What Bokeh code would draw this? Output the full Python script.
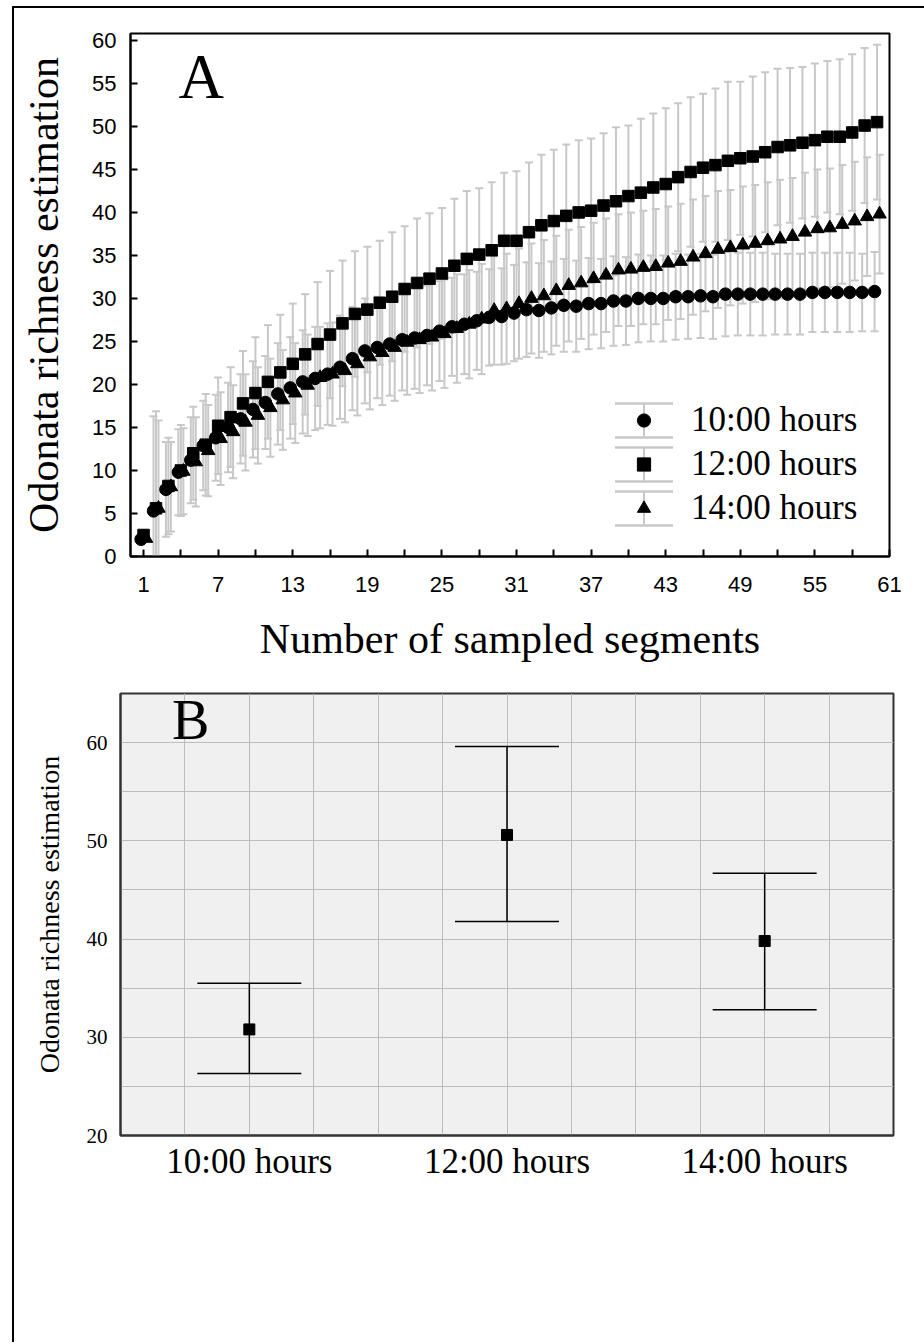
from bokeh.plotting import figure
from bokeh.models import (ColumnDataSource, Whisker, TeeHead, FixedTicker, Legend,
                          LegendItem, Label, FactorRange, Range1d)
from bokeh.layouts import column, row
from bokeh.embed import file_html
from bokeh.resources import INLINE

# ---------------- data ----------------
segments = list(range(1, 61))

mean_10 = [2.0, 5.3, 7.8, 9.8, 11.2, 12.9, 13.8, 15.0, 16.0, 17.1,
           17.9, 18.9, 19.6, 20.3, 20.7, 21.2, 22.0, 23.0, 23.9, 24.3,
           24.7, 25.2, 25.4, 25.7, 26.2, 26.7, 27.0, 27.4, 27.8, 27.9,
           28.3, 28.7, 28.6, 28.9, 29.2, 29.1, 29.4, 29.4, 29.7, 29.7,
           30.0, 30.0, 30.0, 30.2, 30.2, 30.3, 30.2, 30.5, 30.5, 30.5,
           30.5, 30.5, 30.5, 30.5, 30.7, 30.7, 30.7, 30.7, 30.7, 30.8]
err_10 = [0.0, 11.0, 5.5, 5.0, 5.0, 5.2, 5.0, 5.2, 5.2, 5.6,
          5.4, 5.9, 5.9, 6.0, 6.0, 5.9, 6.0, 6.0, 6.1, 5.9,
          6.0, 5.9, 5.9, 5.8, 5.8, 5.7, 5.8, 5.7, 5.6, 5.6,
          5.6, 5.5, 5.5, 5.4, 5.4, 5.3, 5.3, 5.2, 5.2, 5.1,
          5.1, 5.0, 5.0, 5.0, 4.9, 4.9, 4.9, 4.9, 4.8, 4.8,
          4.8, 4.7, 4.7, 4.7, 4.6, 4.6, 4.6, 4.6, 4.5, 4.6]

mean_12 = [2.5, 5.6, 8.2, 10.0, 12.0, 13.0, 15.2, 16.2, 17.8, 19.0,
           20.3, 21.4, 22.4, 23.5, 24.7, 25.8, 27.1, 28.2, 28.7, 29.5,
           30.2, 31.1, 31.8, 32.3, 32.9, 33.8, 34.6, 35.1, 35.6, 36.7,
           36.7, 37.7, 38.5, 39.0, 39.6, 40.0, 40.2, 40.8, 41.3, 41.9,
           42.3, 42.9, 43.3, 44.1, 44.7, 45.2, 45.5, 46.0, 46.3, 46.5,
           47.0, 47.6, 47.8, 48.1, 48.4, 48.8, 48.8, 49.3, 50.1, 50.5]
err_12 = [0.0, 11.3, 5.6, 5.3, 5.4, 5.9, 5.6, 5.8, 6.1, 6.5,
          6.6, 6.7, 7.0, 7.0, 7.2, 7.4, 7.3, 7.3, 7.3, 7.2,
          7.5, 7.3, 7.5, 7.6, 7.6, 7.8, 7.9, 7.7, 7.9, 7.9,
          8.1, 8.1, 8.2, 8.3, 8.3, 8.4, 8.4, 8.4, 8.6, 8.2,
          8.6, 8.6, 8.8, 8.6, 8.7, 8.6, 8.9, 9.2, 8.9, 9.3,
          9.3, 9.1, 9.0, 8.8, 8.9, 8.8, 9.0, 9.1, 9.0, 9.0]

mean_14 = [2.1, 5.6, 8.1, 9.9, 11.0, 12.3, 13.7, 14.5, 15.6, 16.4,
           17.3, 18.2, 19.0, 19.9, 20.8, 21.2, 21.6, 22.4, 23.2, 23.7,
           24.3, 24.9, 25.2, 25.5, 25.9, 26.5, 27.0, 27.6, 28.6, 28.8,
           29.4, 30.0, 30.3, 30.9, 31.5, 31.8, 32.3, 32.7, 33.3, 33.4,
           33.6, 33.7, 34.1, 34.3, 34.8, 35.2, 35.7, 35.9, 36.2, 36.4,
           36.7, 36.9, 37.2, 37.7, 38.1, 38.2, 38.6, 39.0, 39.5, 39.8]
err_14 = [0.0, 10.2, 5.2, 5.0, 5.2, 5.3, 5.4, 5.4, 5.6, 5.6,
          5.7, 5.8, 5.8, 5.9, 5.9, 6.0, 6.0, 6.0, 6.1, 6.1,
          6.2, 6.1, 6.2, 6.2, 6.3, 6.3, 6.3, 6.4, 6.3, 6.4,
          6.4, 6.4, 6.5, 6.4, 6.5, 6.5, 6.5, 6.6, 6.5, 6.6,
          6.6, 6.7, 6.6, 6.7, 6.7, 6.7, 6.8, 6.7, 6.8, 6.8,
          6.8, 6.9, 6.8, 6.9, 6.9, 6.9, 6.9, 6.9, 6.9, 6.9]

series_names = ["10:00 hours", "12:00 hours", "14:00 hours"]
final_mean = [30.8, 50.6, 39.8]
final_lower = [26.3, 41.8, 32.8]
final_upper = [35.5, 59.6, 46.7]

a_y_ticks = [0, 5, 10, 15, 20, 25, 30, 35, 40, 45, 50, 55, 60]
a_x_ticks = [1, 7, 13, 19, 25, 31, 37, 43, 49, 55, 61]
a_x_minor = [4, 10, 16, 22, 28, 34, 40, 46, 52, 58]
b_y_ticks = [20, 30, 40, 50, 60]
b_y_grid = [25, 30, 35, 40, 45, 50, 55, 60]

# ---------------- style ----------------
SERIF = "Liberation Serif"
SANS = "Liberation Sans"
GRAY = "#c8c8c8"
W = 910
BASELINE_FIX = 24  # px: svg text sits lower than the alphabetic baseline requested

# ---------------- panel A ----------------
XA0, XA1 = -0.05, 61.0
YA0, YA1 = 0.0, 60.8
A_LEFT, A_RIGHT, A_TOP, A_BOTTOM = 116, 35, 25, 108
A_FRAME_H = 523
A_H = A_TOP + A_FRAME_H + A_BOTTOM
pA = figure(width=W, height=A_H, x_range=Range1d(XA0, XA1), y_range=Range1d(YA0, YA1),
            output_backend="svg", toolbar_location=None,
            min_border_left=A_LEFT, min_border_right=A_RIGHT,
            min_border_top=A_TOP, min_border_bottom=A_BOTTOM)
pA.grid.visible = False
pA.outline_line_color = "black"
pA.outline_line_width = 2

for ax in (pA.xaxis, pA.yaxis):
    ax.axis_line_width = 2
    ax.axis_line_color = "black"
    ax.major_tick_in = 7
    ax.major_tick_out = 0
    ax.major_tick_line_width = 2
    ax.major_tick_line_color = "black"
    ax.major_label_text_font = SANS
    ax.major_label_text_font_size = "22px"
    ax.major_label_text_color = "black"
    ax.axis_label_text_font = SERIF
    ax.axis_label_text_font_style = "normal"
    ax.axis_label_text_font_size = "42px"
    ax.axis_label_text_color = "black"

pA.yaxis.ticker = FixedTicker(ticks=a_y_ticks)
pA.yaxis.minor_tick_line_color = None
pA.yaxis.major_label_standoff = 14
pA.yaxis.axis_label = "Odonata richness estimation"
pA.yaxis.axis_label_standoff = 22

pA.xaxis.ticker = FixedTicker(ticks=a_x_ticks, minor_ticks=a_x_minor)
pA.xaxis.minor_tick_in = 7
pA.xaxis.minor_tick_out = 0
pA.xaxis.minor_tick_line_width = 2
pA.xaxis.minor_tick_line_color = "black"
pA.xaxis.major_label_standoff = 20
pA.xaxis.axis_label = "Number of sampled segments"
pA.xaxis.axis_label_standoff = 21

series = [
    (mean_10, err_10, "circle", 12.5, -0.2),
    (mean_12, err_12, "square", 11.5, 0.0),
    (mean_14, err_14, "triangle", 13.5, 0.2),
]
renderers = []
for mean, err, marker, size, off in series:
    src = ColumnDataSource(dict(
        x=[s + off for s in segments], y=mean,
        lo=[m - e for m, e in zip(mean, err)],
        hi=[m + e for m, e in zip(mean, err)]))
    pA.add_layout(Whisker(source=src, base="x", lower="lo", upper="hi", dimension="height",
                          line_color=GRAY, line_width=2,
                          upper_head=TeeHead(size=8, line_color=GRAY, line_width=2),
                          lower_head=TeeHead(size=8, line_color=GRAY, line_width=2)))
    renderers.append(pA.scatter("x", "y", source=src, marker=marker, size=size,
                                fill_color="black", line_color="black"))

# legend (markers + labels) with error-bar keys drawn behind it
LEG_X, LEG_Y, GLYPH_W, ITEM_H, SPACING = 497, 28, 33, 40, 4
legend = Legend(items=[LegendItem(label=n, renderers=[r]) for n, r in zip(series_names, renderers)],
                location=(LEG_X, LEG_Y), glyph_width=GLYPH_W, glyph_height=ITEM_H,
                label_height=ITEM_H, spacing=SPACING, padding=0, margin=0,
                label_standoff=31, label_text_font=SERIF, label_text_font_size="35px",
                label_text_color="black", background_fill_alpha=0, border_line_color=None)
pA.add_layout(legend, "center")

frame_w = W - A_LEFT - A_RIGHT
sx = frame_w / (XA1 - XA0)
sy = A_FRAME_H / (YA1 - YA0)
key_x = [XA0 + (LEG_X + GLYPH_W / 2) / sx] * 3
key_y = [YA0 + (LEG_Y + (2 - i) * (ITEM_H + SPACING) + ITEM_H / 2) / sy for i in range(3)]
key_half = 17 / sy
key_src = ColumnDataSource(dict(x=key_x, lo=[v - key_half for v in key_y], hi=[v + key_half for v in key_y]))
pA.add_layout(Whisker(source=key_src, base="x", lower="lo", upper="hi", dimension="height",
                      line_color=GRAY, line_width=2,
                      upper_head=TeeHead(size=58, line_color=GRAY, line_width=2.5),
                      lower_head=TeeHead(size=58, line_color=GRAY, line_width=2.5)))

# panel letter: left edge 50 px right of frame, baseline 67 px below frame top
pA.add_layout(Label(x=XA0 + 48 / sx, y=YA1 - (67 - BASELINE_FIX) / sy, text="A", text_font=SERIF,
                    text_font_size="63px", text_color="black", text_baseline="alphabetic"))

# ---------------- panel B ----------------
YB0, YB1 = 20, 65
B_LEFT, B_RIGHT, B_TOP = 106, 31, 29
B_FRAME_H = 442
B_H = 1344 - 8 - A_H - 2
pB = figure(width=W, height=B_H, x_range=FactorRange(factors=series_names, range_padding=0),
            y_range=Range1d(YB0, YB1), output_backend="svg", toolbar_location=None,
            background_fill_color="#f0f0f0",
            min_border_left=B_LEFT, min_border_right=B_RIGHT,
            min_border_top=B_TOP, min_border_bottom=B_H - B_TOP - B_FRAME_H)
pB.outline_line_color = "#333333"
pB.outline_line_width = 2
pB.xgrid.ticker = FixedTicker(ticks=[0.25 * k for k in range(1, 12)])
pB.ygrid.ticker = FixedTicker(ticks=b_y_grid)
pB.grid.grid_line_color = "#bdbdbd"
pB.grid.grid_line_width = 1

pB.yaxis.ticker = FixedTicker(ticks=b_y_ticks)
pB.yaxis.major_tick_line_color = None
pB.yaxis.minor_tick_line_color = None
pB.yaxis.major_label_standoff = 7
pB.yaxis.major_label_text_font = SERIF
pB.yaxis.major_label_text_font_size = "21px"
pB.yaxis.major_label_text_color = "black"
pB.yaxis.axis_label = "Odonata richness estimation"
pB.yaxis.axis_label_text_font = SERIF
pB.yaxis.axis_label_text_font_style = "normal"
pB.yaxis.axis_label_text_font_size = "28px"
pB.yaxis.axis_label_text_color = "black"
pB.yaxis.axis_label_standoff = 19

pB.xaxis.major_tick_line_color = None
pB.xaxis.major_label_standoff = 0
pB.xaxis.major_label_text_font = SERIF
pB.xaxis.major_label_text_font_size = "35px"
pB.xaxis.major_label_text_color = "black"
for ax in (pB.xaxis, pB.yaxis):
    ax.axis_line_color = "#333333"
    ax.axis_line_width = 2

srcB = ColumnDataSource(dict(x=series_names, y=final_mean, lo=final_lower, hi=final_upper))
pB.add_layout(Whisker(source=srcB, base="x", lower="lo", upper="hi", dimension="height",
                      line_color="black", line_width=1.5, level="glyph",
                      upper_head=TeeHead(size=104, line_color="black", line_width=1.5),
                      lower_head=TeeHead(size=104, line_color="black", line_width=1.5)))
pB.scatter("x", "y", source=srcB, marker="square", size=11, fill_color="black", line_color="black")

syB = B_FRAME_H / (YB1 - YB0)
pB.add_layout(Label(x=0.2, y=YB1 - (50 - BASELINE_FIX) / syB, text="B", text_font=SERIF,
                    text_font_size="56px", text_color="black", text_baseline="alphabetic"))

layout = column(row(pA), row(pB), spacing=0,
                styles={"border-top": "2px solid black", "border-left": "2px solid black",
                        "margin-top": "6px", "margin-left": "12px"})

open("out.html", "w").write(file_html(layout, INLINE))
